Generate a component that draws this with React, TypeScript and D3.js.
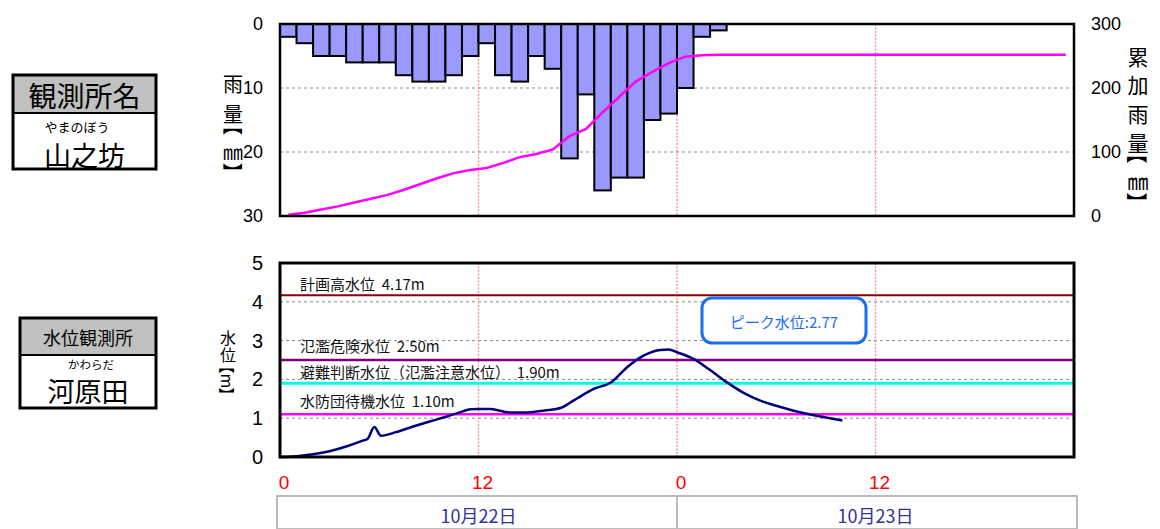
import React from "react";
import * as d3 from "d3";

// ---- Data ----
const hourlyRain = [2, 3, 5, 5, 6, 6, 6, 8, 9, 9, 8, 5, 3, 8, 9, 5, 7, 21, 11, 26, 24, 24, 15, 14, 10, 2, 1];
const cumHours = [0.5, 1.5, 2.5, 3.5, 4.5, 5.5, 6.5, 7.5, 8.5, 9.5, 10.5, 11.5, 12.5, 13.5, 14.5, 15.5, 16.5, 17.5, 18.5, 19.5, 20.5, 21.5, 22.5, 23.5, 24.5, 25.5, 26.5, 47.5];
const cumRain = [2, 5, 10, 15, 21, 27, 33, 41, 50, 59, 67, 72, 75, 83, 92, 97, 104, 125, 136, 162, 186, 210, 225, 239, 249, 251, 252, 252];

const levelHours = [0, 1, 2, 3, 4, 5, 5.3, 5.7, 6.1, 7, 8, 9, 10, 11, 11.5, 12, 12.7, 13.5, 14, 15, 16, 17, 17.5, 18, 19, 20, 21, 22, 23, 23.5, 24, 25, 26, 27, 28, 29, 30, 31, 32, 33, 34];
const levelValues = [0.0, 0.02, 0.07, 0.15, 0.27, 0.42, 0.47, 0.77, 0.55, 0.64, 0.78, 0.91, 1.03, 1.17, 1.23, 1.24, 1.24, 1.17, 1.15, 1.15, 1.2, 1.27, 1.39, 1.52, 1.76, 1.92, 2.32, 2.62, 2.76, 2.77, 2.7, 2.53, 2.24, 1.93, 1.66, 1.46, 1.32, 1.2, 1.1, 1.02, 0.94];

const SP = "\u00a0\u00a0";
const thresholdNames = ["計画高水位" + SP + "4.17m", "氾濫危険水位" + SP + "2.50m", "避難判断水位（氾濫注意水位）" + SP + "1.90m", "水防団待機水位" + SP + "1.10m"];
const thresholdValues = [4.17, 2.5, 1.9, 1.1];
const thresholdColors = ["#8b0000", "#800080", "#00ffee", "#ff00ff"];
const thresholdWidths = [2, 2.5, 3, 2.5];
const thresholdLabelY = [290, 352, 378, 407];

const rainTicks = [0, 10, 20, 30];
const cumTicks = [0, 100, 200, 300];
const levelTicks = [0, 1, 2, 3, 4, 5];
const hourTicks = [0, 12, 24, 36];
const hourTickLabels = ["0", "12", "0", "12"];
const dateLabels = ["10月22日", "10月23日"];
const peakLabel = "ピーク水位:2.77";

const JP = "'Noto Sans CJK JP', 'Noto Sans', sans-serif";
const NUM = "'Liberation Sans', Arial, sans-serif";

type VChar = { ch: string; y: number; rot?: boolean; dx?: string };

function VerticalTitle({ x, size, chars }: { x: number; size: number; chars: VChar[] }) {
  return (
    <g fontFamily={JP} fontSize={size} fill="#000">
      {chars.map((c, i) => (
        <text
          key={i}
          x={x}
          y={c.y}
          dx={c.dx}
          textAnchor="middle"
          dominantBaseline="central"
          transform={c.rot ? `rotate(90 ${x} ${c.y})` : undefined}
        >
          {c.ch}
        </text>
      ))}
    </g>
  );
}

export default function App() {
  const x = d3.scaleLinear().domain([0, 48]).range([280, 1074]);
  const yRain = d3.scaleLinear().domain([0, 30]).range([24, 216]);
  const yCum = d3.scaleLinear().domain([0, 300]).range([216, 24]);
  const yLevel = d3.scaleLinear().domain([0, 5]).range([457, 263]);

  const cumLine = d3
    .line<number>()
    .x((_, i) => x(cumHours[i]))
    .y((d) => yCum(d));
  const levelLine = d3
    .line<number>()
    .x((_, i) => x(levelHours[i]))
    .y((d) => yLevel(d))
    .curve(d3.curveMonotoneX);

  const topL = 280, topR = 1074, topT = 24, topB = 216;
  const botT = 263, botB = 457;

  return (
    <svg width={1160} height={529} style={{ position: "absolute", left: 0, top: 0, background: "#fff" }}>
      {/* Station boxes */}
      <g>
        <rect x={13} y={75} width={143} height={38} fill="#c0c0c0" />
        <rect x={13} y={113} width={143} height={56} fill="#fff" />
        <line x1={13} x2={156} y1={113} y2={113} stroke="#000" strokeWidth={2} />
        <rect x={13} y={75} width={143} height={94} fill="none" stroke="#000" strokeWidth={3} />
        <text x={84.5} y={95} textAnchor="middle" dominantBaseline="central" fontFamily={JP} fontSize={28}>観測所名</text>
        <text x={77} y={126} textAnchor="middle" dominantBaseline="central" fontFamily={JP} fontSize={13}>やまのぼう</text>
        <text x={84.5} y={154.5} textAnchor="middle" dominantBaseline="central" fontFamily={JP} fontSize={27}>山之坊</text>

        <rect x={20} y={318} width={136} height={37} fill="#c0c0c0" />
        <rect x={20} y={355} width={136} height={53} fill="#fff" />
        <line x1={20} x2={156} y1={355} y2={355} stroke="#000" strokeWidth={2} />
        <rect x={20} y={318} width={136} height={90} fill="none" stroke="#000" strokeWidth={3} />
        <text x={88} y={337} textAnchor="middle" dominantBaseline="central" fontFamily={JP} fontSize={18}>水位観測所</text>
        <text x={91} y={364} textAnchor="middle" dominantBaseline="central" fontFamily={JP} fontSize={11.5}>かわらだ</text>
        <text x={88} y={390} textAnchor="middle" dominantBaseline="central" fontFamily={JP} fontSize={27}>河原田</text>
      </g>

      {/* ---- Top chart: rainfall ---- */}
      <g>
        {[10, 20].map((t) => (
          <line key={t} x1={topL} x2={topR} y1={yRain(t)} y2={yRain(t)} stroke="#888" strokeWidth={1} strokeDasharray="3,3" />
        ))}
        {hourTicks.slice(1).map((h) => (
          <line key={h} x1={x(h)} x2={x(h)} y1={topT} y2={topB} stroke="#ff8a8a" strokeWidth={1.3} strokeDasharray="2,1.5" />
        ))}
        {hourlyRain.map((v, i) => (
          <rect
            key={i}
            x={x(i)}
            y={yRain(0)}
            width={x(i + 1) - x(i)}
            height={yRain(v) - yRain(0)}
            fill="#9999ff"
            stroke="#000"
            strokeWidth={2}
          />
        ))}
        <path d={cumLine(cumRain) || ""} fill="none" stroke="#ff00ff" strokeWidth={2.5} />
        <rect x={topL} y={topT} width={topR - topL} height={topB - topT} fill="none" stroke="#000" strokeWidth={2.5} />
        {rainTicks.map((t) => (
          <text key={t} x={263} y={yRain(t)} textAnchor="end" dominantBaseline="central" fontFamily={NUM} fontSize={18}>{t}</text>
        ))}
        {cumTicks.map((t) => (
          <text key={t} x={1091} y={yCum(t)} textAnchor="start" dominantBaseline="central" fontFamily={NUM} fontSize={18}>{t}</text>
        ))}
        <VerticalTitle
          x={233}
          size={20}
          chars={[
            { ch: "雨", y: 83.5 },
            { ch: "量", y: 113.5 },
            { ch: "【", y: 131, rot: true, dx: "-0.27em" },
            { ch: "㎜", y: 151.5 },
            { ch: "】", y: 167, rot: true, dx: "0.27em" },
          ]}
        />
        <VerticalTitle
          x={1138}
          size={21}
          chars={[
            { ch: "累", y: 56 },
            { ch: "加", y: 84 },
            { ch: "雨", y: 113 },
            { ch: "量", y: 142 },
            { ch: "【", y: 159, rot: true, dx: "-0.27em" },
            { ch: "㎜", y: 180 },
            { ch: "】", y: 197, rot: true, dx: "0.27em" },
          ]}
        />
      </g>

      {/* ---- Bottom chart: water level ---- */}
      <g>
        {[1, 2, 3, 4].map((t) => (
          <line key={t} x1={topL} x2={topR} y1={yLevel(t)} y2={yLevel(t)} stroke="#888" strokeWidth={1} strokeDasharray="3,3" />
        ))}
        {hourTicks.slice(1).map((h) => (
          <line key={h} x1={x(h)} x2={x(h)} y1={botT} y2={botB} stroke="#ff8a8a" strokeWidth={1.3} strokeDasharray="2,1.5" />
        ))}
        {thresholdValues.map((v, i) => (
          <line key={i} x1={topL} x2={topR} y1={yLevel(v)} y2={yLevel(v)} stroke={thresholdColors[i]} strokeWidth={thresholdWidths[i]} />
        ))}
        {thresholdNames.map((n, i) => (
          <text key={i} x={300} y={thresholdLabelY[i]} fontFamily={JP} fontSize={15} fill="#111">{n}</text>
        ))}
        <path d={levelLine(levelValues) || ""} fill="none" stroke="#000080" strokeWidth={2.5} />
        <rect x={topL} y={botT} width={topR - topL} height={botB - botT} fill="none" stroke="#000" strokeWidth={3} />
        {levelTicks.map((t) => (
          <text key={t} x={263} y={yLevel(t)} textAnchor="end" dominantBaseline="central" fontFamily={NUM} fontSize={20}>{t}</text>
        ))}
        <text x={228} y={329.5} fontFamily={JP} fontSize={16} letterSpacing={1.5} style={{ writingMode: "vertical-rl" }}>水位</text>
        <VerticalTitle
          x={228}
          size={16}
          chars={[
            { ch: "【", y: 370, rot: true, dx: "-0.27em" },
            { ch: "m", y: 381, rot: true },
            { ch: "】", y: 391, rot: true, dx: "0.27em" },
          ]}
        />
        {/* Peak annotation */}
        <rect x={702} y={298} width={164} height={45} rx={10} ry={10} fill="#fff" stroke="#1a6ff0" strokeWidth={3} />
        <text x={784} y={321} textAnchor="middle" dominantBaseline="central" fontFamily={JP} fontSize={15} fill="#1a6ff0">{peakLabel}</text>
      </g>

      {/* ---- X axis ---- */}
      <g>
        {hourTicks.map((h, i) => (
          <text key={h} x={x(h) + 4} y={482} textAnchor="middle" dominantBaseline="central" fontFamily={NUM} fontSize={19} fill="#ff0000">{hourTickLabels[i]}</text>
        ))}
        <rect x={277} y={496} width={800} height={33} fill="#fff" stroke="#bbb" strokeWidth={2} />
        <line x1={x(24)} x2={x(24)} y1={496} y2={529} stroke="#bbb" strokeWidth={2} />
        {dateLabels.map((d, i) => (
          <text key={d} x={(x(i * 24) + x(i * 24 + 24)) / 2} y={515} textAnchor="middle" dominantBaseline="central" fontFamily={JP} fontSize={18} fill="#333399">{d}</text>
        ))}
      </g>
    </svg>
  );
}
